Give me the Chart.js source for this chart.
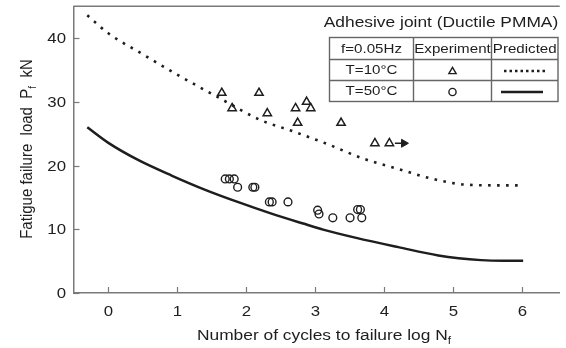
<!DOCTYPE html>
<html>
<head>
<meta charset="utf-8">
<script src="https://cdn.jsdelivr.net/npm/chart.js@4.4.1/dist/chart.umd.min.js"></script>
<style>
body{margin:0;background:#fff;}
</style>
</head>
<body>
<canvas id="chart" width="566" height="348"></canvas>
<script>

// experiment, T=10C (triangles)
let cold_logN=[1.65,1.80,2.19,2.31,2.72,2.75,2.88,2.94,3.38,3.87,4.08];
let cold_load=[31.4,29.0,31.4,28.2,29.0,26.7,30.0,29.0,26.7,23.5,23.5];

// experiment, T=50C (circles)
let warm_logN=[1.70,1.76,1.83,1.88,2.10,2.13,2.34,2.38,2.61,3.04,3.06,3.26,3.51,3.62,3.66,3.68];
let warm_load=[17.9,17.9,17.9,16.6,16.6,16.6,14.3,14.3,14.3,13.0,12.4,11.8,11.8,13.1,13.1,11.8];

// predicted curves
let predCold_logN=[-0.3,0,0.5,1.0,1.6,2.2,2.65,3.2,3.7,4.2,4.75,5.2,5.6,5.95];
let predCold_load=[43.6,40.8,37.5,34.3,30.7,27.2,25.5,23.3,21.1,19.5,17.8,17.0,16.9,16.9];
let predWarm_logN=[-0.3,0,0.45,0.93,1.41,1.88,2.36,2.83,3.12,3.6,4.21,4.79,5.41,5.73,6.02];
let predWarm_load=[26.0,23.6,20.8,18.4,16.2,14.3,12.5,10.9,9.95,8.65,7.2,5.9,5.16,5.05,5.05];

// run-out arrow after the last triangle
let runout_logN=[4.16,4.29];
let runout_load=[23.5,23.5];

let xTicks=[0,1,2,3,4,5,6];
let yTicks=[0,10,20,30,40];

let ink="#1e1e1e";
let axisGray="#7a7a7a";
let fontFamily="'Liberation Sans', Arial, Helvetica, sans-serif";
let stretch=1.12;

function pts(xs,ys){
return xs.map((x,i)=>({x:x,y:ys[i]}));
}

// text with optional subscript parts, drawn a little wider than the font
function drawText(ctx,parts,x,y,size,align,rotated){
ctx.save();
ctx.translate(x,y);
if(rotated){
ctx.rotate(-Math.PI/2);
ctx.scale(1,stretch);
}else{
ctx.scale(stretch,1);
}
ctx.fillStyle=ink;
ctx.textBaseline="middle";
ctx.textAlign="left";
let widths=parts.map(p=>{
ctx.font=(p.sub?size*0.68:size)+"px "+fontFamily;
return ctx.measureText(p.t).width;
});
let total=widths.reduce((a,b)=>a+b,0);
let cx=align=="center"?-total/2:align=="right"?-total:0;
parts.forEach((p,i)=>{
ctx.font=(p.sub?size*0.68:size)+"px "+fontFamily;
ctx.fillText(p.t,cx,p.sub?size*0.32:0);
cx+=widths[i];
});
ctx.restore();
}

let framePlugin={
id:"frame",
afterDraw(chart){
let ctx=chart.ctx;
let a=chart.chartArea;
let xs=chart.scales.x, ys=chart.scales.y;

ctx.save();
ctx.strokeStyle=axisGray;
ctx.lineWidth=1.5;

// top edge of the box
ctx.beginPath();
ctx.moveTo(a.left,a.top);
ctx.lineTo(a.right,a.top);
ctx.stroke();

// inward ticks and their labels
ctx.lineWidth=1.2;
xTicks.forEach(v=>{
let px=Math.round(xs.getPixelForValue(v))+0.5;
ctx.beginPath();
ctx.moveTo(px,a.bottom);
ctx.lineTo(px,a.bottom-6);
ctx.stroke();
drawText(ctx,[{t:String(v)}],px,311.5,15,"center");
});
yTicks.forEach(v=>{
let py=Math.round(ys.getPixelForValue(v))+0.5;
ctx.beginPath();
ctx.moveTo(a.left,py);
ctx.lineTo(a.left+6,py);
ctx.stroke();
drawText(ctx,[{t:String(v)}],66,py,15,"right");
});

// axis titles
drawText(ctx,[{t:"Number of cycles to failure log N"},{t:"f",sub:true}],324,336,15.5,"center");
drawText(ctx,[{t:"Fatigue failure  load  P"},{t:"f",sub:true},{t:"  kN"}],27,149,15,"center",true);

// legend table
let L=329.5,R=558,T=37.5,B=101.5;
let c1=413.5,c2=491.5,r1=59.5,r2=80.5;
drawText(ctx,[{t:"Adhesive joint (Ductile PMMA)"}],441,22.5,15.5,"center");
ctx.strokeStyle="#666";
ctx.lineWidth=1.4;
ctx.fillStyle="#fff";
ctx.fillRect(L,T,R-L,B-T);
ctx.strokeRect(L,T,R-L,B-T);
ctx.beginPath();
ctx.moveTo(c1,T);ctx.lineTo(c1,B);
ctx.moveTo(c2,T);ctx.lineTo(c2,B);
ctx.moveTo(L,r1);ctx.lineTo(R,r1);
ctx.moveTo(L,r2);ctx.lineTo(R,r2);
ctx.stroke();

let m1=(L+c1)/2,m2=(c1+c2)/2,m3=(c2+R)/2;
let y1=(T+r1)/2,y2=(r1+r2)/2,y3=(r2+B)/2;
drawText(ctx,[{t:"f=0.05Hz"}],m1,y1+0.5,13.5,"center");
drawText(ctx,[{t:"Experiment"}],m2,y1+0.5,13.5,"center");
drawText(ctx,[{t:"Predicted"}],m3,y1+0.5,13.5,"center");
drawText(ctx,[{t:"T=10°C"}],m1,y2+0.5,13.5,"center");
drawText(ctx,[{t:"T=50°C"}],m1,y3+0.5,13.5,"center");

// legend symbols
ctx.strokeStyle=ink;
ctx.fillStyle="rgba(0,0,0,0)";
ctx.lineWidth=1.4;
Chart.helpers.drawPoint(ctx,{pointStyle:"triangle",radius:4.2,rotation:0,borderWidth:1.4},m2,y2+1.5);
Chart.helpers.drawPoint(ctx,{pointStyle:"circle",radius:3.6,rotation:0,borderWidth:1.4},m2,y3+1);

ctx.lineWidth=2.4;
ctx.setLineDash([2.5,3]);
ctx.beginPath();
ctx.moveTo(504,y2+1);ctx.lineTo(546,y2+1);
ctx.stroke();
ctx.setLineDash([]);
ctx.beginPath();
ctx.moveTo(501,y3+1);ctx.lineTo(543,y3+1);
ctx.stroke();
ctx.restore();
}
};

new Chart(document.getElementById("chart"),{
type:"scatter",
data:{
datasets:[
{
label:"Predicted T=10C",
data:pts(predCold_logN,predCold_load),
showLine:true,
borderColor:ink,
borderWidth:2.6,
borderDash:[2.6,6.4],
pointRadius:0,
cubicInterpolationMode:"monotone",
fill:false
},
{
label:"Predicted T=50C",
data:pts(predWarm_logN,predWarm_load),
showLine:true,
borderColor:ink,
borderWidth:2.5,
pointRadius:0,
cubicInterpolationMode:"monotone",
fill:false
},
{
label:"Experiment T=10C",
data:pts(cold_logN,cold_load),
pointStyle:"triangle",
pointRadius:4.8,
pointBorderWidth:1.5,
borderColor:ink,
backgroundColor:"rgba(0,0,0,0)"
},
{
label:"Experiment T=50C",
data:pts(warm_logN,warm_load),
pointStyle:"circle",
pointRadius:3.9,
pointBorderWidth:1.4,
borderColor:ink,
backgroundColor:"rgba(0,0,0,0)"
},
{
label:"run-out",
data:pts(runout_logN,runout_load),
showLine:true,
borderColor:ink,
borderWidth:1.4,
pointStyle:"triangle",
pointRotation:90,
pointRadius:[0,4.6],
pointBorderWidth:1,
pointBackgroundColor:ink,
pointBorderColor:ink
}
]
},
options:{
responsive:false,
animation:false,
devicePixelRatio:1,
layout:{padding:{left:73.5,right:0,top:5,bottom:55}},
plugins:{legend:{display:false},tooltip:{enabled:false}},
scales:{
x:{
type:"linear",
min:-0.5,
max:6.55,
grid:{display:false},
ticks:{display:false},
border:{color:axisGray,width:1.5},
afterFit(s){s.height=0;}
},
y:{
min:0,
max:45,
grid:{display:false},
ticks:{display:false},
border:{color:axisGray,width:1.5},
afterFit(s){s.width=0;}
}
}
},
plugins:[framePlugin]
});

</script>
</body>
</html>
